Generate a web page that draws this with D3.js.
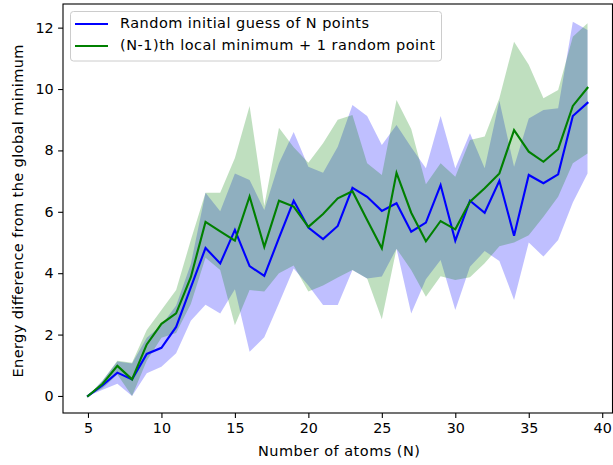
<!DOCTYPE html>
<html>
<head>
<meta charset="utf-8">
<script src="https://cdn.jsdelivr.net/npm/d3@7"></script>
<style>
  body { margin: 0; background: #fff; }
  svg { display: block; font-family: "DejaVu Sans", sans-serif; }
</style>
</head>
<body>
<div id="chart"></div>
<script>
// number of atoms N
var atoms = [5,6,7,8,9,10,11,12,13,14,15,16,17,18,19,20,21,22,23,24,25,26,27,28,29,30,31,32,33,34,35,36,37,38,39];

// random initial guess of N points
var randMean  = [0,0.35,0.76,0.54,1.37,1.57,2.25,3.54,4.82,4.32,5.41,4.23,3.91,5.15,6.36,5.49,5.11,5.54,6.78,6.49,6.03,6.28,5.35,5.65,6.87,5.06,6.36,5.97,7.01,5.22,7.2,6.93,7.22,9.12,9.55];
var randUpper = [0,0.5,1.12,1.06,1.9,2.3,2.95,4.3,6.62,6.02,7.25,7.04,6.06,7.58,8.6,7.47,7.27,8.12,9.48,9.12,8.18,8.83,8.1,7.42,9.12,7.42,8.56,7.42,9.62,7.47,9.04,9.32,9.37,12.19,11.92];
var randLower = [0,0.2,0.4,0,0.74,0.95,1.39,2.45,2.97,2.69,3.48,1.44,1.91,3.02,4.15,3.6,2.96,2.96,4.1,3.83,3.89,4.8,2.69,3.8,4.43,2.8,4.21,4.72,4.4,3.13,5.0,4.54,5.08,6.3,7.25];

// (N-1)th local minimum + 1 random point
var localMean  = [0,0.4,0.98,0.54,1.68,2.35,2.69,3.87,5.67,5.36,5.06,6.5,4.86,6.36,6.17,5.51,5.93,6.44,6.67,5.73,4.81,7.27,5.97,5.04,5.7,5.43,6.33,6.77,7.25,8.66,7.96,7.63,8.04,9.45,10.04];
var localUpper = [0,0.5,1.15,1.08,2.15,2.8,3.45,5.08,6.62,6.62,7.75,9.45,6.2,8.74,8.1,7.6,8.23,9.0,9.15,7.58,7.2,9.64,8.7,6.9,7.58,7.14,8.34,8.45,9.7,11.54,10.79,9.7,9.97,11.7,12.14];
var localLower = [0,0.25,0.7,0,1.15,1.9,2.05,3.0,4.5,4.1,2.3,3.45,3.4,4.0,4.25,3.4,3.6,3.86,4.1,3.83,2.5,4.8,4.1,3.23,3.9,3.78,3.87,4.32,4.88,5.0,5.24,5.84,6.49,7.58,7.9];

var xTicks = [5,10,15,20,25,30,35,40];
var yTicks = [0,2,4,6,8,10,12];
var seriesNames = ["Random initial guess of N points", "(N-1)th local minimum + 1 random point"];
var legendWidths = [249, 315];

var width = 613, height = 465;
var margin = {top: 4, right: 0.5, bottom: 52, left: 63};

var svg = d3.select("#chart").append("svg")
    .attr("width", width)
    .attr("height", height);

var x = d3.scaleLinear()
    .domain([3.3, 40.7])
    .range([margin.left, width - margin.right]);

var y = d3.scaleLinear()
    .domain([-0.555, 12.77])
    .range([height - margin.bottom, margin.top]);

function rows(mean, lo, hi) {
  return atoms.map((n, i) => ({n: n, v: mean[i], lo: lo[i], hi: hi[i]}));
}
var series = [
  {name: seriesNames[0], color: "#0000ff", data: rows(randMean, randLower, randUpper)},
  {name: seriesNames[1], color: "#008000", data: rows(localMean, localLower, localUpper)}
];

var area = d3.area()
    .x(d => x(d.n))
    .y0(d => y(d.lo))
    .y1(d => y(d.hi));

var line = d3.line()
    .x(d => x(d.n))
    .y(d => y(d.v));

var plot = svg.append("g");

plot.selectAll("path.band")
  .data(series)
  .join("path")
    .attr("class", "band")
    .attr("d", d => area(d.data))
    .attr("fill", d => d.color)
    .attr("fill-opacity", 0.25);

plot.selectAll("path.line")
  .data(series)
  .join("path")
    .attr("class", "line")
    .attr("d", d => line(d.data))
    .attr("fill", "none")
    .attr("stroke", d => d.color)
    .attr("stroke-width", 2.1)
    .attr("stroke-linejoin", "miter")
    .attr("stroke-linecap", "square");

// axes
var xAxis = g => g
    .attr("transform", `translate(0,${height - margin.bottom})`)
    .call(d3.axisBottom(x).tickValues(xTicks).tickSize(4.9).tickPadding(4.5).tickSizeOuter(0))
    .call(g => g.select(".domain").remove());

var yAxis = g => g
    .attr("transform", `translate(${margin.left},0)`)
    .call(d3.axisLeft(y).tickValues(yTicks).tickSize(4.9).tickPadding(4.5).tickSizeOuter(0))
    .call(g => g.select(".domain").remove());

svg.append("g").call(xAxis);
svg.append("g").call(yAxis);

svg.selectAll(".tick text")
    .attr("font-size", "14.3px")
    .attr("font-family", "DejaVu Sans, sans-serif")
    .attr("fill", "#000");
svg.selectAll(".tick line")
    .attr("stroke", "#000")
    .attr("stroke-width", 1.1);

// frame
svg.append("rect")
    .attr("x", margin.left)
    .attr("y", margin.top)
    .attr("width", width - margin.right - margin.left)
    .attr("height", height - margin.bottom - margin.top)
    .attr("fill", "none")
    .attr("stroke", "#000")
    .attr("stroke-width", 1.1);

// axis labels
svg.append("text")
    .attr("x", 339)
    .attr("y", 452)
    .attr("text-anchor", "middle")
    .attr("dominant-baseline", "middle")
    .attr("font-size", "14.5px")
    .attr("textLength", 162)
    .attr("lengthAdjust", "spacing")
    .text("Number of atoms (N)");

svg.append("text")
    .attr("transform", "translate(18.5,211) rotate(-90)")
    .attr("text-anchor", "middle")
    .attr("dominant-baseline", "middle")
    .attr("font-size", "14.5px")
    .attr("textLength", 333)
    .attr("lengthAdjust", "spacing")
    .text("Energy difference from the global minimum");

// legend
var legend = svg.append("g");
legend.append("rect")
    .attr("x", 70.5)
    .attr("y", 11.5)
    .attr("width", 371)
    .attr("height", 49.5)
    .attr("rx", 3)
    .attr("fill", "#fff")
    .attr("fill-opacity", 0.8)
    .attr("stroke", "#cccccc")
    .attr("stroke-width", 1);

var item = legend.selectAll("g.item")
  .data(series)
  .join("g")
    .attr("class", "item")
    .attr("transform", (d, i) => `translate(0,${24 + i * 22})`);

item.append("line")
    .attr("x1", 75)
    .attr("x2", 108)
    .attr("stroke", d => d.color)
    .attr("stroke-width", 2.1);

item.append("text")
    .attr("x", 120)
    .attr("dominant-baseline", "middle")
    .attr("font-size", "14.5px")
    .attr("textLength", (d, i) => legendWidths[i])
    .attr("lengthAdjust", "spacing")
    .text(d => d.name);
</script>
</body>
</html>
